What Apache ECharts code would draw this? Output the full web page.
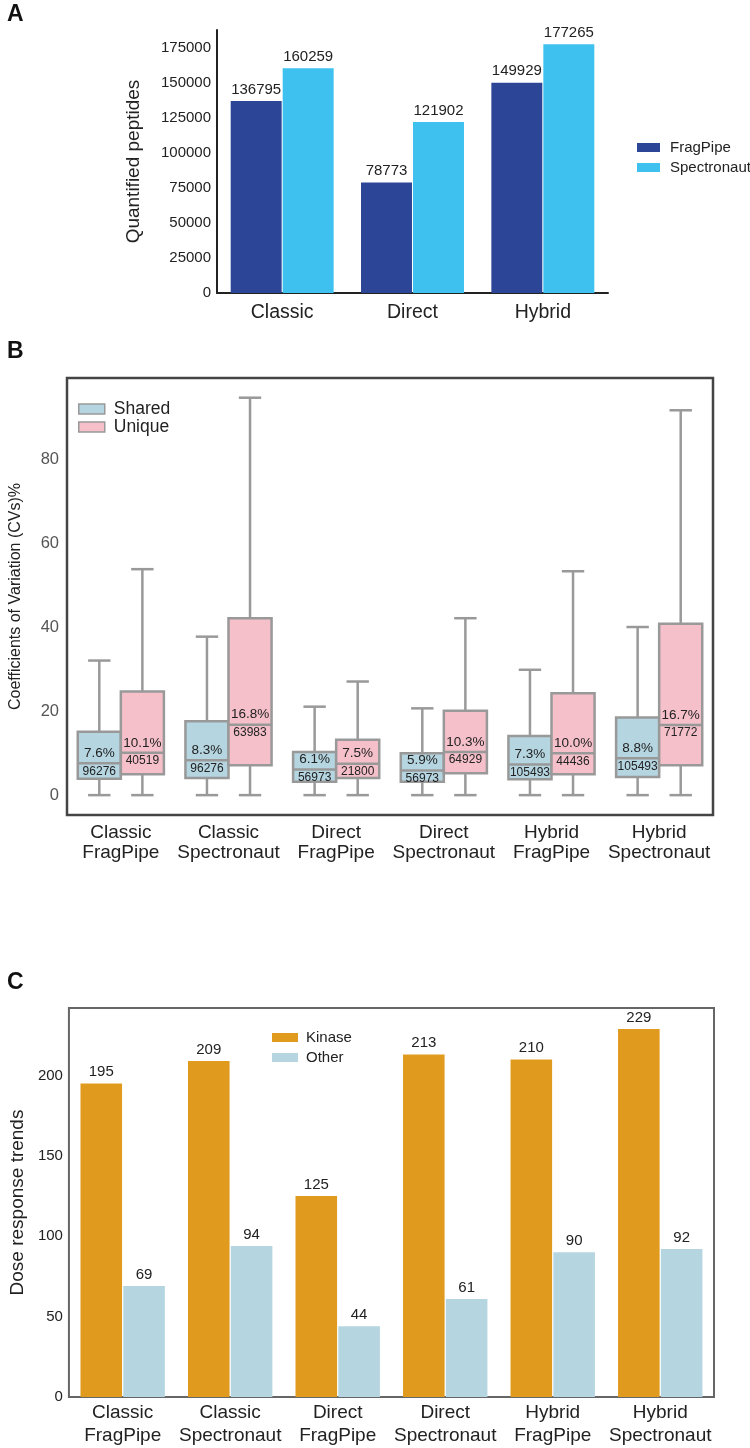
<!DOCTYPE html>
<html>
<head>
<meta charset="utf-8">
<script src="https://cdn.jsdelivr.net/npm/echarts@6/dist/echarts.min.js"></script>
<style>
  html, body { margin: 0; padding: 0; background: #fff; }
  #main { width: 750px; height: 1448px; }
</style>
</head>
<body>
<div id="main"></div>
<script>
// panel A: quantified peptides
var workflowNames = ['Classic', 'Direct', 'Hybrid'];
var fragPipePeptides = [136795, 78773, 149929];
var spectronautPeptides = [160259, 121902, 177265];

// panel B: CV boxes, [low, q1, median, q3, high]
var cvGroups = ['Classic\nFragPipe', 'Classic\nSpectronaut', 'Direct\nFragPipe',
    'Direct\nSpectronaut', 'Hybrid\nFragPipe', 'Hybrid\nSpectronaut'];
var sharedBoxes = [
    [0, 3.9, 7.6, 15.1, 32.1],
    [0, 4.1, 8.3, 17.6, 37.8],
    [0, 3.2, 6.1, 10.3, 21.1],
    [0, 3.2, 5.9, 10.0, 20.7],
    [0, 3.8, 7.3, 14.1, 29.9],
    [0, 4.3, 8.8, 18.5, 40.1]
];
var uniqueBoxes = [
    [0, 5.0, 10.1, 24.7, 53.9],
    [0, 7.1, 16.8, 42.2, 94.8],
    [0, 4.1, 7.5, 13.2, 27.1],
    [0, 5.2, 10.3, 20.1, 42.2],
    [0, 5.0, 10.0, 24.3, 53.4],
    [0, 7.1, 16.7, 40.9, 91.8]
];
var sharedCounts = [96276, 96276, 56973, 56973, 105493, 105493];
var uniqueCounts = [40519, 63983, 21800, 64929, 44436, 71772];
var cvTicks = [0, 20, 40, 60, 80];

// panel C: dose response trends
var kinaseTrends = [195, 209, 125, 213, 210, 229];
var otherTrends = [69, 94, 44, 61, 90, 92];

var FONT = "'Liberation Sans', Arial, Helvetica, sans-serif";
var INK = '#222';
var BOX_LINE = '#999';

var myChart = echarts.init(document.getElementById('main'));

function withIndex(rows) {
    return rows.map(function (r, i) { return [i].concat(r); });
}

function plainNumber(v) {
    return String(v);
}

// draws one box (shared on the left half, unique on the right half)
function boxRenderer(side, counts) {
    return function (params, api) {
        var idx = api.value(0);
        var band = api.size([1, 0])[0];
        var boxW = band * 0.4;
        var cx = api.coord([idx, 0])[0] + side * boxW / 2;
        var y = function (d) { return api.coord([idx, api.value(d)])[1]; };
        var low = y(1), q1 = y(2), med = y(3), q3 = y(4), high = y(5);
        var capW = boxW * 0.52;
        var ln = {stroke: BOX_LINE, lineWidth: 2.5};
        return {
            type: 'group',
            children: [
                {type: 'line', shape: {x1: cx, y1: low, x2: cx, y2: q1}, style: ln},
                {type: 'line', shape: {x1: cx, y1: q3, x2: cx, y2: high}, style: ln},
                {type: 'line', shape: {x1: cx - capW / 2, y1: low, x2: cx + capW / 2, y2: low}, style: ln},
                {type: 'line', shape: {x1: cx - capW / 2, y1: high, x2: cx + capW / 2, y2: high}, style: ln},
                {type: 'rect', shape: {x: cx - boxW / 2, y: q3, width: boxW, height: q1 - q3},
                    style: {fill: api.visual('color'), stroke: BOX_LINE, lineWidth: 2.5}},
                {type: 'line', shape: {x1: cx - boxW / 2, y1: med, x2: cx + boxW / 2, y2: med}, style: ln},
                {type: 'text', x: cx, y: med - 3,
                    style: {text: api.value(3).toFixed(1) + '%', align: 'center', verticalAlign: 'bottom',
                        fontSize: 13.5, fontFamily: FONT, fill: INK}},
                {type: 'text', x: cx, y: med + 2,
                    style: {text: String(counts[params.dataIndex]), align: 'center', verticalAlign: 'top',
                        fontSize: 12, fontFamily: FONT, fill: INK}}
            ]
        };
    };
}

var option = {
    animation: false,
    backgroundColor: '#fff',
    textStyle: {fontFamily: FONT},
    title: [
        {text: 'A', left: 7, top: 3, padding: 0, textStyle: {fontSize: 23, fontWeight: 'bold', color: '#111', fontFamily: FONT}},
        {text: 'B', left: 7, top: 340, padding: 0, textStyle: {fontSize: 23, fontWeight: 'bold', color: '#111', fontFamily: FONT}},
        {text: 'C', left: 7, top: 971, padding: 0, textStyle: {fontSize: 23, fontWeight: 'bold', color: '#111', fontFamily: FONT}}
    ],
    legend: [
        {
            data: ['FragPipe', 'Spectronaut'], orient: 'vertical', left: 632, top: 135,
            icon: 'rect', itemWidth: 23, itemHeight: 9, itemGap: 5,
            textStyle: {fontSize: 15, color: INK, padding: [0, 0, 0, 5]}
        },
        {
            data: ['Shared', 'Unique'], orient: 'vertical', left: 73, top: 395,
            icon: 'rect', itemWidth: 26, itemHeight: 10, itemGap: 0,
            itemStyle: {borderColor: BOX_LINE, borderWidth: 1.5},
            textStyle: {fontSize: 17.5, color: INK, padding: [0, 0, 0, 4]}
        },
        {
            data: ['Kinase', 'Other'], orient: 'vertical', left: 267, top: 1025,
            icon: 'rect', itemWidth: 26, itemHeight: 9, itemGap: 5,
            textStyle: {fontSize: 15, color: INK, padding: [0, 0, 0, 3]}
        }
    ],
    grid: [
        {left: 217, top: 30, width: 391, height: 263},
        {left: 61, top: 378, width: 652, height: 437, show: true, borderColor: '#444', borderWidth: 2.5, backgroundColor: 'transparent'},
        {left: 61, top: 1008, width: 653, height: 389, show: true, borderColor: '#666', borderWidth: 2, backgroundColor: 'transparent'}
    ],
    xAxis: [
        {
            gridIndex: 0, type: 'category', data: workflowNames,
            axisLine: {show: true, lineStyle: {color: INK, width: 2}},
            axisTick: {show: false},
            axisLabel: {fontSize: 19.5, color: INK, margin: 10, interval: 0}
        },
        {
            gridIndex: 1, type: 'category', data: cvGroups,
            axisLine: {show: false}, axisTick: {show: false},
            axisLabel: {fontSize: 19, color: INK, margin: 8, lineHeight: 20, interval: 0}
        },
        {
            gridIndex: 2, type: 'category', data: cvGroups,
            axisLine: {show: false}, axisTick: {show: false},
            axisLabel: {fontSize: 19, color: INK, margin: 4, lineHeight: 23, interval: 0}
        }
    ],
    yAxis: [
        {
            gridIndex: 0, type: 'value', min: 0, max: 187500, interval: 25000,
            name: 'Quantified peptides', nameLocation: 'middle', nameGap: 74,
            nameTextStyle: {fontSize: 19, color: INK},
            axisLine: {show: true, lineStyle: {color: INK, width: 2}},
            axisTick: {show: false}, splitLine: {show: false},
            axisLabel: {fontSize: 15, color: INK, margin: 6, showMaxLabel: false, formatter: plainNumber}
        },
        {
            gridIndex: 1, type: 'value', min: -4.74, max: 99.5,
            name: 'Coefficients of Variation (CVs)%', nameLocation: 'middle', nameGap: 43,
            nameTextStyle: {fontSize: 16, color: INK},
            axisLine: {show: false}, axisTick: {show: false}, splitLine: {show: false},
            axisLabel: {fontSize: 16.5, color: '#555', margin: 8, customValues: cvTicks, formatter: plainNumber}
        },
        {
            gridIndex: 2, type: 'value', min: 0, max: 242, interval: 50,
            name: 'Dose response trends', nameLocation: 'middle', nameGap: 40,
            nameTextStyle: {fontSize: 19, color: INK},
            axisLine: {show: false}, axisTick: {show: false}, splitLine: {show: false},
            axisLabel: {fontSize: 15, color: INK, margin: 6, showMaxLabel: false, formatter: plainNumber}
        }
    ],
    series: [
        {
            name: 'FragPipe', type: 'bar', xAxisIndex: 0, yAxisIndex: 0,
            data: fragPipePeptides, barCategoryGap: '21%', barGap: '2%',
            itemStyle: {color: '#2d4596'},
            label: {show: true, position: 'top', distance: 4, fontSize: 15, color: INK}
        },
        {
            name: 'Spectronaut', type: 'bar', xAxisIndex: 0, yAxisIndex: 0,
            data: spectronautPeptides, barCategoryGap: '21%', barGap: '2%',
            itemStyle: {color: '#3ec1ef'},
            label: {show: true, position: 'top', distance: 4, fontSize: 15, color: INK}
        },
        {
            name: 'Shared', type: 'custom', xAxisIndex: 1, yAxisIndex: 1,
            data: withIndex(sharedBoxes), encode: {x: 0, y: [1, 2, 3, 4, 5]},
            itemStyle: {color: '#b5d5e0', borderColor: BOX_LINE, borderWidth: 1.5},
            renderItem: boxRenderer(-1, sharedCounts)
        },
        {
            name: 'Unique', type: 'custom', xAxisIndex: 1, yAxisIndex: 1,
            data: withIndex(uniqueBoxes), encode: {x: 0, y: [1, 2, 3, 4, 5]},
            itemStyle: {color: '#f5c0ca', borderColor: BOX_LINE, borderWidth: 1.5},
            renderItem: boxRenderer(1, uniqueCounts)
        },
        {
            name: 'Kinase', type: 'bar', xAxisIndex: 2, yAxisIndex: 2,
            data: kinaseTrends, barCategoryGap: '21.5%', barGap: '3%',
            itemStyle: {color: '#e09b1e'},
            label: {show: true, position: 'top', distance: 4, fontSize: 15, color: INK}
        },
        {
            name: 'Other', type: 'bar', xAxisIndex: 2, yAxisIndex: 2,
            data: otherTrends, barCategoryGap: '21.5%', barGap: '3%',
            itemStyle: {color: '#b5d6e0'},
            label: {show: true, position: 'top', distance: 4, fontSize: 15, color: INK}
        }
    ]
};

myChart.setOption(option);
</script>
</body>
</html>
